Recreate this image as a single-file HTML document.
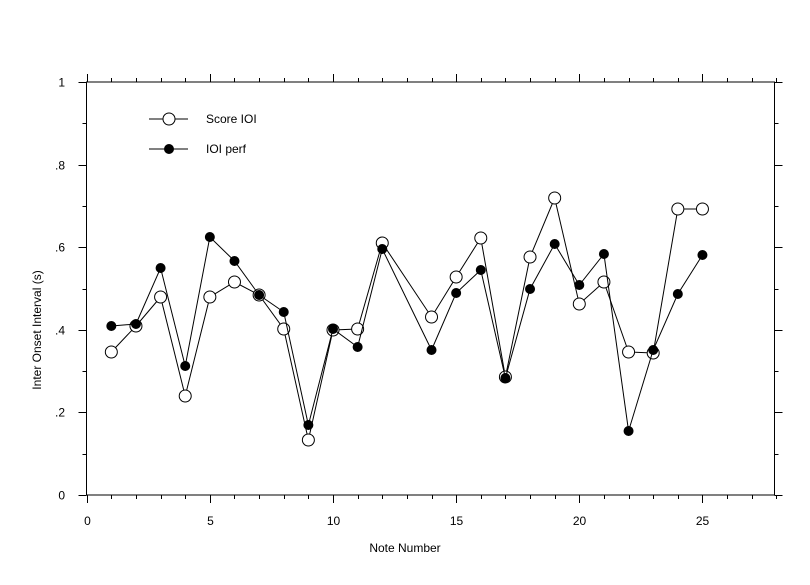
<!DOCTYPE html>
<html><head><meta charset="utf-8"><style>
html,body{margin:0;padding:0;background:#fff}
svg{display:block;font-family:"Liberation Sans",Arial,sans-serif;font-size:12px}
</style></head><body>
<svg width="810" height="585" viewBox="0 0 810 585" xmlns="http://www.w3.org/2000/svg">
<rect width="810" height="585" fill="#fff"/>
<g id="axes" stroke="#000" stroke-width="1" fill="none"></g>
<g id="lab" fill="#000"></g>
<g id="data"></g>
<text x="405" y="552" text-anchor="middle">Note Number</text>
<text transform="translate(41,330) rotate(-90)" text-anchor="middle">Inter Onset Interval (s)</text>
<line x1="149" y1="119" x2="188" y2="119" stroke="#000"/>
<circle cx="169" cy="119" r="6" fill="#fff" stroke="#000"/>
<text x="206" y="123">Score IOI</text>
<line x1="149" y1="149" x2="188" y2="149" stroke="#000"/>
<circle cx="169" cy="149" r="4.5" fill="#000" stroke="#000"/>
<text x="206" y="153">IOI perf</text>
<script>
var NS="http://www.w3.org/2000/svg";
function el(p,t,a){var e=document.createElementNS(NS,t);for(var k in a)e.setAttribute(k,a[k]);p.appendChild(e);return e;}
var L=86.5,R=774.5,T=82,B=495;
var X=function(n){return 86.7+24.63*n;}, Y=function(v){return B-(B-T)*v;};
var ax=document.getElementById('axes'),lab=document.getElementById('lab');
el(ax,'rect',{x:L,y:T,width:R-L,height:B-T});
for(var n=0;n<=28;n++){var x=Math.round(X(n))+0.5,m=n%5==0?8:4;
 el(ax,'line',{x1:x,y1:B,x2:x,y2:B+m});el(ax,'line',{x1:x,y1:T,x2:x,y2:T-m});
 if(n%5==0){var t=el(lab,'text',{x:x,y:525,'text-anchor':'middle'});t.textContent=n;}}
for(var i=0;i<=10;i++){var y=Math.round(Y(i/10))+0.5,m=i%2==0?8:4;
 el(ax,'line',{x1:L,y1:y,x2:L-m,y2:y});el(ax,'line',{x1:R,y1:y,x2:R+m,y2:y});
 if(i%2==0){var s=i==0?'0':i==10?'1':'.'+i;var t=el(lab,'text',{x:65,y:y+4,'text-anchor':'end'});t.textContent=s;}}
var xs=[1,2,3,4,5,6,7,8,9,10,11,12,14,15,16,17,18,19,20,21,22,23,24,25];
var sc=[352,326,297,396,297,282,295,329,440,330,329,243,317,277,238,377,257,198,304,282,352,353,209,209];
var pf=[326,324,268,366,237,261,295,312,425,329,347,249,350,293,270,378,289,244,285,254,431,350,294,255];
var d=document.getElementById('data');
function series(ys,fill,r){var pts=xs.map(function(n,i){return X(n)+','+ys[i];}).join(' ');
 el(d,'polyline',{points:pts,fill:'none',stroke:'#000','stroke-width':1});
 xs.forEach(function(n,i){el(d,'circle',{cx:X(n),cy:ys[i],r:r,fill:fill,stroke:'#000'});});}
series(sc,'#fff',6);series(pf,'#000',4.5);
</script>
</svg>
</body></html>
